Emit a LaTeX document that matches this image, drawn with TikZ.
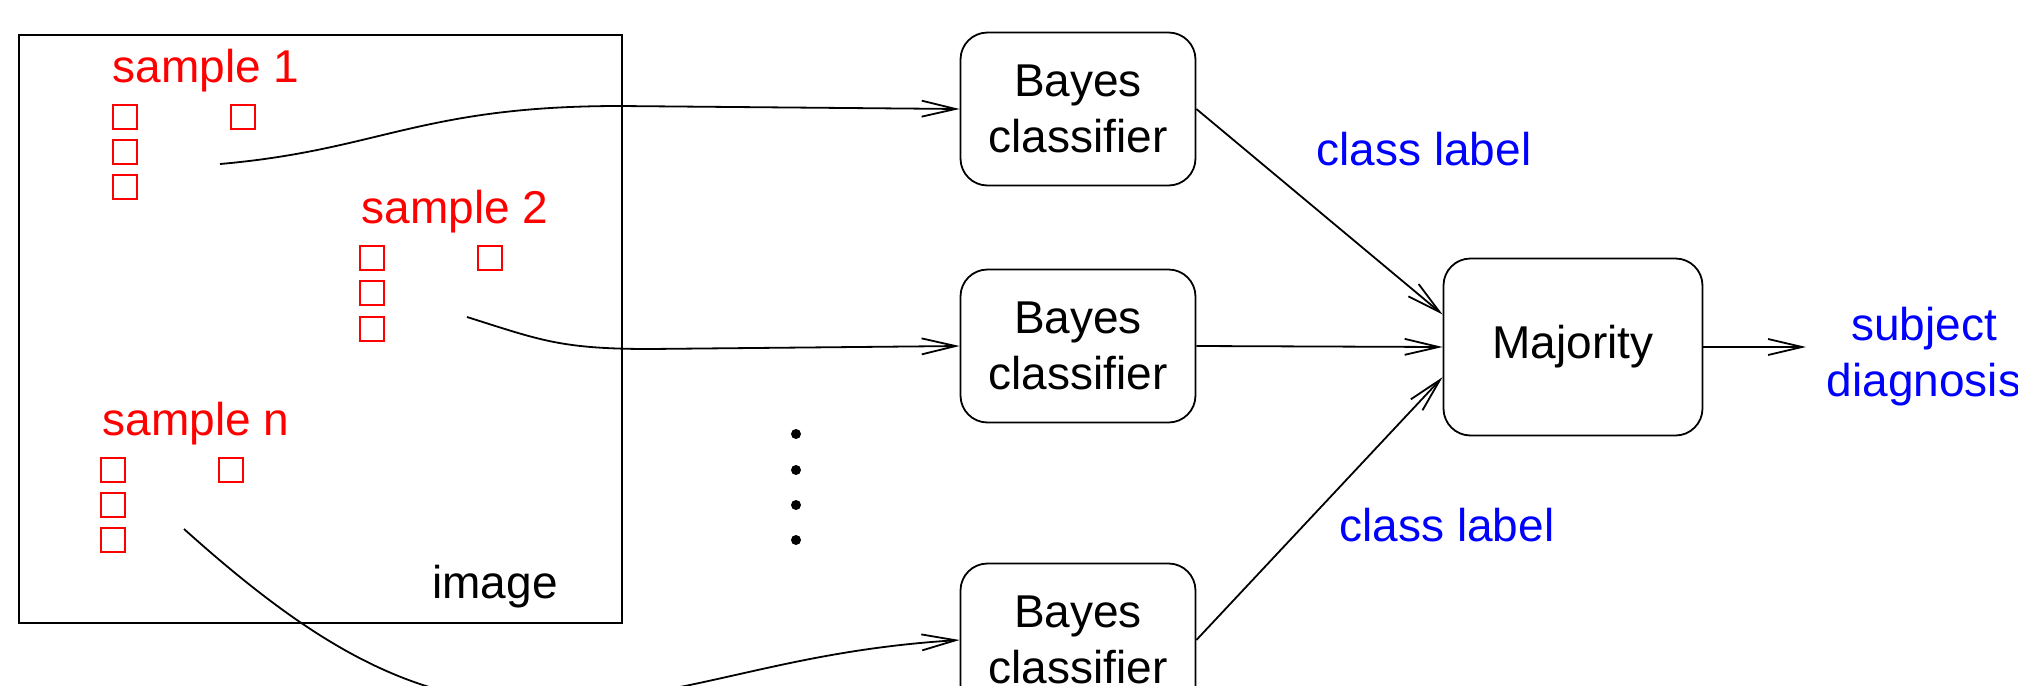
\documentclass[tikz,border=0pt]{standalone}
\usepackage{fontspec}
\setmainfont{Liberation Sans}
\usetikzlibrary{arrows.meta}

\tikzset{
  box/.style={draw, line width=0.45pt, rounded corners=6.75pt, align=center,
    minimum width=58.75pt, minimum height=38.25pt, inner sep=0.75pt},
  vote/.style={box, minimum width=64.75pt, minimum height=44.25pt},
  pix/.style={draw={rgb, 255:red, 255; green, 0; blue, 0 }, line width=0.45pt},
  flow/.style={line width=0.45pt, -{Straight Barb[length=8.5pt,width=4pt]}},
}

\begin{document}
\begin{tikzpicture}[x=0.25pt,y=0.25pt,yscale=-1,xscale=1,font=\fontsize{11.5}{14}\selectfont]
\useasboundingbox (0,0) rectangle (2018,686);
\clip (0,0) rectangle (2018,686);

%Shape: Rectangle [image frame]
\draw [line width=0.45pt] (19,35) rectangle (622,623);

%Shape: Squares [sample 1]
\draw [pix] (113,105) rectangle ++(24,24);
\draw [pix] (113,140) rectangle ++(24,24);
\draw [pix] (113,175) rectangle ++(24,24);
\draw [pix] (231,105) rectangle ++(24,24);
%Shape: Squares [sample 2]
\draw [pix] (360,246) rectangle ++(24,24);
\draw [pix] (360,281) rectangle ++(24,24);
\draw [pix] (360,317) rectangle ++(24,24);
\draw [pix] (478,246) rectangle ++(24,24);
%Shape: Squares [sample n]
\draw [pix] (101,458) rectangle ++(24,24);
\draw [pix] (101,493) rectangle ++(24,24);
\draw [pix] (101,528) rectangle ++(24,24);
\draw [pix] (219,458) rectangle ++(24,24);

% Text Node
\draw (206,82) node [anchor=base][inner sep=0.75pt] [color={rgb, 255:red, 255; green, 0; blue, 0 }] (smp1) {sample 1};
% Text Node
\draw (455,223) node [anchor=base][inner sep=0.75pt] [color={rgb, 255:red, 255; green, 0; blue, 0 }] (smp2) {sample 2};
% Text Node
\draw (196,435) node [anchor=base][inner sep=0.75pt] [color={rgb, 255:red, 255; green, 0; blue, 0 }] (smpn) {sample n};
% Text Node
\draw (495,598) node [anchor=base][inner sep=0.75pt] (img) {image};

%Shape: Dots
\fill (796,434) circle (5);
\fill (796,470) circle (5);
\fill (796,505) circle (5);
\fill (796,540) circle (5);

% Classifiers and vote
\draw (1078,109) node [box] (bc1) {Bayes\\classifier};
\draw (1078,346) node [box] (bc2) {Bayes\\classifier};
\draw (1078,640) node [box] (bc3) {Bayes\\classifier};
\draw (1573,347) node [vote] (maj) {Majority};

% Text Node
\draw (1424,165) node [anchor=base][inner sep=0.75pt] [color={rgb, 255:red, 0; green, 0; blue, 255 }] (lab1) {class label};
% Text Node
\draw (1447,541) node [anchor=base][inner sep=0.75pt] [color={rgb, 255:red, 0; green, 0; blue, 255 }] (lab2) {class label};
% Text Node
\draw (1924,357) node [inner sep=5pt][align=center] [color={rgb, 255:red, 0; green, 0; blue, 255 }] (diag) {subject\\diagnosis};

% Curves out of the image
\coordinate (s1out) at (220,164);
\coordinate (s2out) at (467,317);
\coordinate (snout) at (184,529);
\draw [flow] (s1out) .. controls (380,150) and (420,106) .. (620,106) -- (bc1.west);
\draw [flow] (s2out) .. controls (540,340) and (560,349) .. (650,349) -- (bc2.west);
\draw [flow] (snout) .. controls (330,660) and (440,720) .. (600,700) .. controls (720,686) and (800,650) .. (bc3.west);

% Lines into the vote
\draw [flow] (bc1.east) -- (maj.166);
\draw [flow] (bc2.east) -- (maj.west);
\draw [flow] (bc3.east) -- (maj.193);
\draw [flow] (maj.east) -- (maj.east -| diag.west);

\end{tikzpicture}
\end{document}
